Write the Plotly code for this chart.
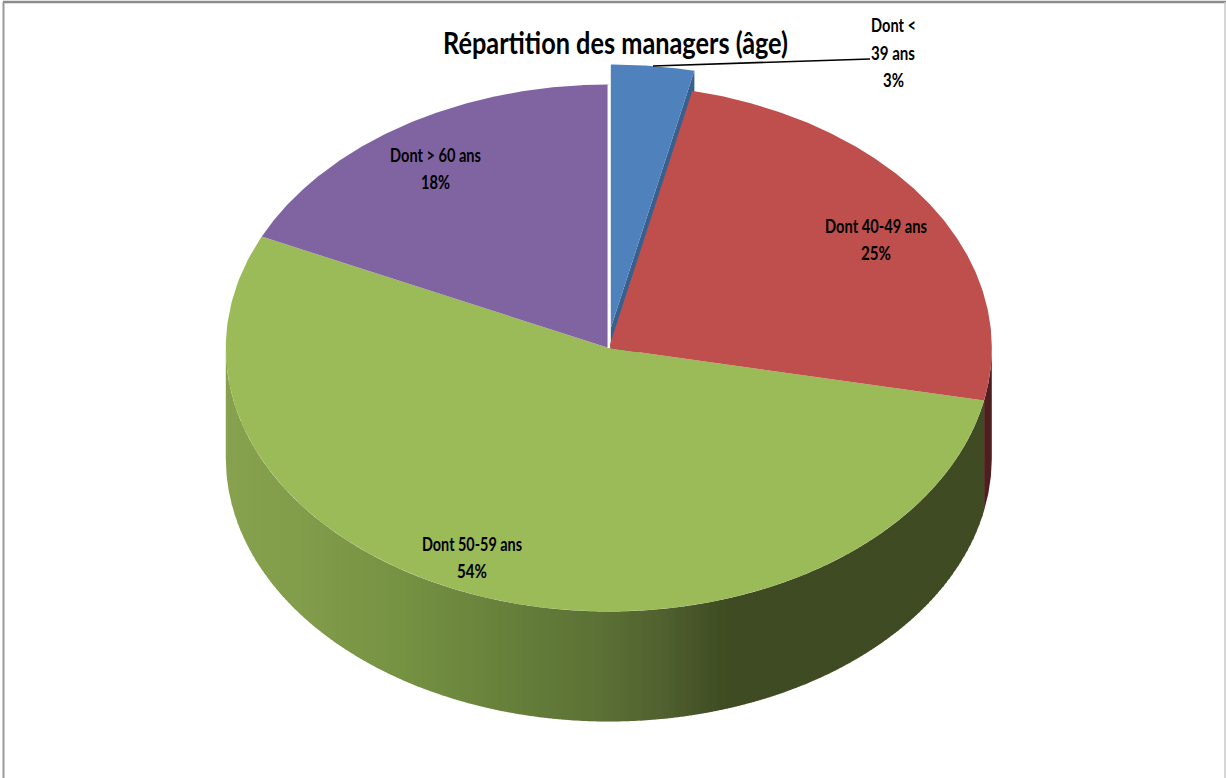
import json
import numpy as np
import plotly.graph_objects as go

# ---- data ----
CATEGORIES = ["Dont < 39 ans", "Dont 40-49 ans", "Dont 50-59 ans", "Dont > 60 ans"]
VALUES = [3.5, 24.7, 53.75, 18.05]
PCT_LABELS = ["3%", "25%", "54%", "18%"]
TITLE = "Répartition des managers (âge)"

# ---- style / geometry ----
TOP = ["#4f81bd", "#be4f4c", "#9bbb59", "#8064a2"]
BLUE_WALL = "#37608f"
RED_WALL = "#4f1f1f"
CX, CY, RX, RY, DEPTH = 608.8, 348.0, 383.0, 263.5, 110.0
EXPLODE = (2.0, -20.0)
GRAD_X = [225, 300, 400, 500, 600, 660, 700, 730, 1000]
GRAD_R = [136, 130, 118, 104, 92, 82, 70, 63, 63]
GRAD_G = [162, 157, 147, 130, 113, 98, 84, 75, 75]
GRAD_B = [79, 75, 67, 60, 54, 48, 40, 34, 34]
FONT = "Lato, Liberation Sans, sans-serif"

fr = np.cumsum([0] + VALUES) / sum(VALUES) * 2 * np.pi


def ex(t, off=0.0):
    return CX + off + RX * np.sin(t)


def ey(t, off=0.0):
    return CY + off - RY * np.cos(t)


def arc(a, b, n=240):
    return np.linspace(a, b, n)


fig = go.Figure()


def poly(x, y, color, lw=0.0):
    fig.add_trace(go.Scatter(
        x=list(x), y=list(y), mode="lines", fill="toself", fillcolor=color,
        line=dict(color=color, width=lw), hoverinfo="skip", showlegend=False))


# red outer wall (only a sliver shows on the right)
t = arc(np.pi / 2, fr[2], 40)
poly(np.r_[ex(t), ex(t[::-1])], np.r_[ey(t), ey(t[::-1]) + DEPTH], RED_WALL)

# green outer wall: vertical strips with a left-to-right gradient
t_right, t_left = fr[2], 1.5 * np.pi
x_edges = np.arange(ex(t_left), ex(t_right) + 3, 3.0)
x_edges[-1] = ex(t_right)
for x0, x1 in zip(x_edges[:-1], x_edges[1:]):
    xs = np.linspace(x0, min(x1 + 0.6, x_edges[-1]), 6)
    top = CY + RY * np.sqrt(np.clip(1 - ((xs - CX) / RX) ** 2, 0, 1))
    xm = (x0 + x1) / 2
    col = "rgb(%d,%d,%d)" % (np.interp(xm, GRAD_X, GRAD_R),
                             np.interp(xm, GRAD_X, GRAD_G),
                             np.interp(xm, GRAD_X, GRAD_B))
    poly(np.r_[xs, xs[::-1]], np.r_[top, top[::-1] + DEPTH], col)

# blue exploded slice radial wall
bx, by = CX + EXPLODE[0], CY + EXPLODE[1]
poly([bx, ex(fr[1], EXPLODE[0]), ex(fr[1], EXPLODE[0]), bx],
     [by, ey(fr[1], EXPLODE[1]), ey(fr[1], EXPLODE[1]) + DEPTH, by + DEPTH], BLUE_WALL)

# top faces: green, purple, red
for i in [2, 3, 1]:
    t = arc(fr[i], fr[i + 1])
    poly(np.r_[CX, ex(t), CX], np.r_[CY, ey(t), CY], TOP[i])

# white seam on the purple slice's right edge
fig.add_trace(go.Scatter(x=[CX, CX], y=[CY, ey(2 * np.pi)], mode="lines",
                         line=dict(color="white", width=2.5),
                         hoverinfo="skip", showlegend=False))

# exploded blue top
t = arc(fr[0], fr[1], 40)
poly(np.r_[bx, ex(t, EXPLODE[0]), bx], np.r_[by, ey(t, EXPLODE[1]), by], TOP[0])

# leader line
fig.add_trace(go.Scatter(x=[653, 870], y=[66, 59], mode="lines",
                         line=dict(color="black", width=1.6),
                         hoverinfo="skip", showlegend=False))

# text: (x, y, string, width in px of the squeezed text)
LABEL_LINES = [
    (893, 24, "Dont <", 45), (893, 52, "39 ans", 44), (893, 79, PCT_LABELS[0], 21),
    (876, 225, CATEGORIES[1], 102), (876, 252, PCT_LABELS[1], 30),
    (472, 543, CATEGORIES[2], 100), (472, 570, PCT_LABELS[2], 30),
    (435, 154, CATEGORIES[3], 91), (435, 181, PCT_LABELS[3], 29),
]
ann = [dict(x=x, y=y, text=s, showarrow=False, xanchor="center", yanchor="middle",
            width=w, height=24, align="center",
            font=dict(family=FONT, size=19, color="black", weight=700))
       for x, y, s, w in LABEL_LINES]
ann.append(dict(x=615, y=42, text=TITLE, showarrow=False, xanchor="center",
                yanchor="middle", width=345, height=38, align="center",
                font=dict(family=FONT, size=30, color="black", weight=700)))
WIDTHS = {s: w for _, _, s, w in LABEL_LINES}
WIDTHS[TITLE] = 345

frame = [
    dict(type="line", x0=3, x1=1226, y0=2, y1=2, line=dict(color="#8a8a8a", width=2.5)),
    dict(type="line", x0=3.5, x1=3.5, y0=2, y1=778, line=dict(color="#9a9a9a", width=2)),
    dict(type="line", x0=1225, x1=1225, y0=2, y1=778, line=dict(color="#c8c8c8", width=1.5)),
]

fig.update_layout(
    width=1226, height=778, margin=dict(l=0, r=0, t=0, b=0),
    paper_bgcolor="white", plot_bgcolor="white", showlegend=False,
    xaxis=dict(range=[0, 1226], visible=False, fixedrange=True),
    yaxis=dict(range=[778, 0], visible=False, fixedrange=True),
    annotations=ann, shapes=frame,
)

POST = """
document.body.style.margin = '0';
document.body.style.overflow = 'hidden';
var W = %s;
function squeeze() {
  document.querySelectorAll('.annotation-text').forEach(function (el) {
    var w = W[el.textContent];
    if (w) {
      el.setAttribute('textLength', w);
      el.setAttribute('lengthAdjust', 'spacingAndGlyphs');
    }
  });
}
squeeze();
if (document.fonts && document.fonts.ready) { document.fonts.ready.then(squeeze); }
""" % json.dumps(WIDTHS)
fig.write_html("out.html", config=dict(displayModeBar=False), post_script=POST)
